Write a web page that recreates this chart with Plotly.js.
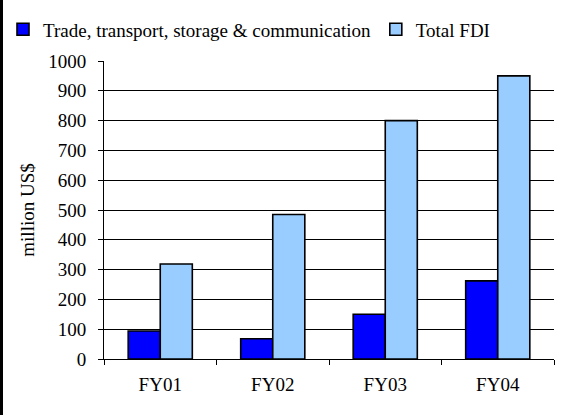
<!DOCTYPE html>
<html>
<head>
<meta charset="utf-8">
<script src="https://cdn.plot.ly/plotly-3.0.1.min.js"></script>
<style>
body{margin:0;padding:0;background:#fff}
#plot{width:567px;height:415px;box-sizing:border-box;border-left:3px solid #000}
</style>
</head>
<body>
<div id="plot"></div>
<script>

const years = ["FY01","FY02","FY03","FY04"]
const tradeFDI = [94,68,150,262]
const totalFDI = [319,485,800,950]

const serif = "Times New Roman, Liberation Serif, serif"

const trace1={
x:years,
y:tradeFDI,
type:"bar",
name:"Trade, transport, storage &amp; communication",
legend:"legend",
marker:{color:"#0000ff",line:{color:"#000",width:1.6}}
}

const trace2={
x:years,
y:totalFDI,
type:"bar",
name:"Total FDI",
legend:"legend2",
marker:{color:"#99ccff",line:{color:"#000",width:1.6}}
}

const legendBase={
orientation:"h",
xref:"container",
yref:"container",
y:0.975,
xanchor:"left",
yanchor:"top",
font:{family:serif,size:19},
itemwidth:30,
bgcolor:"rgba(0,0,0,0)"
}

Plotly.newPlot(
"plot",
[trace1,trace2],
{
width:564,
height:415,
margin:{l:101,r:13,t:61,b:56},
paper_bgcolor:"#fff",
plot_bgcolor:"#fff",
font:{family:serif,size:19,color:"#000"},
barmode:"group",
bargap:0.43,
bargroupgap:0,
showlegend:true,
legend:{...legendBase,x:-0.005},
legend2:{...legendBase,x:0.661},
xaxis:{
type:"category",
automargin:false,
tickson:"boundaries",
ticks:"outside",
ticklen:5,
tickcolor:"#000",
showgrid:false,
showline:true,
linecolor:"#000",
linewidth:1,
ticklabelstandoff:8,
tickfont:{family:serif,size:19}
},
yaxis:{
range:[0,1000],
dtick:100,
automargin:false,
ticks:"outside",
ticklen:5,
tickcolor:"#000",
showline:true,
linecolor:"#000",
linewidth:1,
gridcolor:"#000",
gridwidth:1,
zeroline:false,
ticklabelstandoff:8,
tickfont:{family:serif,size:19},
title:{text:"million US$",font:{family:serif,size:19},standoff:8}
}
},
{displayModeBar:false}
)

</script>
</body>
</html>
